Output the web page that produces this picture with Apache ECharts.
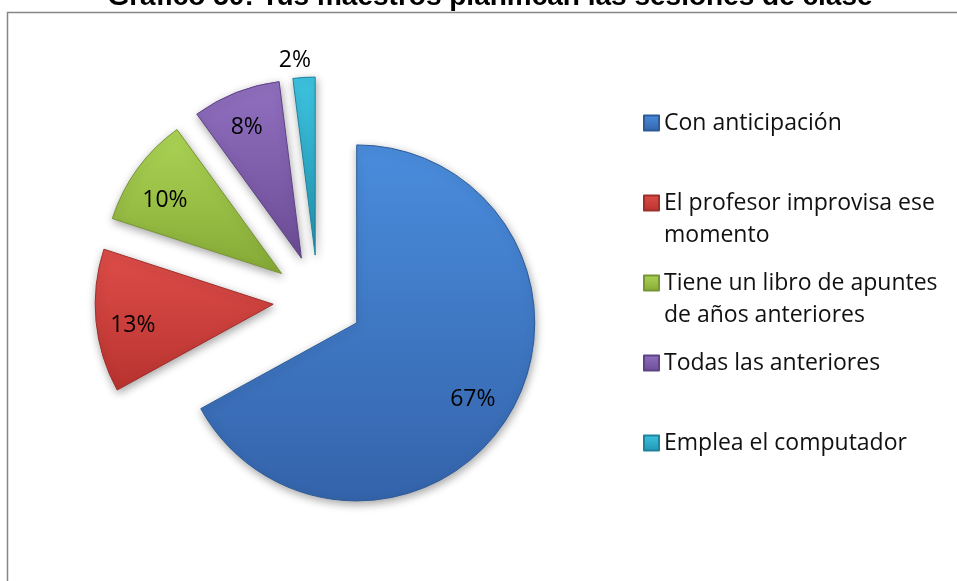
<!DOCTYPE html>
<html>
<head>
<meta charset="utf-8">
<title>Gráfico 50</title>
<script src="https://cdn.jsdelivr.net/npm/echarts@6/dist/echarts.min.js"></script>
<style>
  html, body { margin: 0; padding: 0; background: #ffffff; }
  #chart { width: 957px; height: 581px; }
</style>
</head>
<body>
<div id="chart"></div>
<script>
// Survey answers and their shares (%)
const categories = [
  'Con anticipación',
  'El profesor improvisa ese momento',
  'Tiene un libro de apuntes de años anteriores',
  'Todas las anteriores',
  'Emplea el computador'
];
const percentages = [67, 13, 10, 8, 2];
// Legend wording, broken into lines
const legendLines = [
  ['Con anticipación'],
  ['El profesor improvisa ese', 'momento'],
  ['Tiene un libro de apuntes', 'de años anteriores'],
  ['Todas las anteriores'],
  ['Emplea el computador']
];
const titleText = 'Gráfico 50: Tus maestros planifican las sesiones de clase';

// Slice palette: [light top, dark bottom, edge]
const palette = [
  ['#4a8ddd', '#3463aa', '#2c5b98'],
  ['#de4d49', '#b9332f', '#9e2f2b'],
  ['#acd455', '#86aa36', '#779534'],
  ['#9170c0', '#6c4c96', '#5e4386'],
  ['#3ec4e0', '#2195b2', '#1f839d']
];
// small nudges of the percentage labels inside their slices
const labelNudge = [[-7, 4], [2, 8], [-1, 11], [-2, 2], [0, 0]];

const grad = (c) => new echarts.graphic.LinearGradient(0, 0, 0, 1, [
  { offset: 0, color: c[0] }, { offset: 1, color: c[1] }
]);

const pieCenter = [318, 300];
const pieRadius = 178;
const explode = 45;
const textFont = '"Open Sans", "Noto Sans", sans-serif';
const lineH = 32;
const legendX = 643;
const legendFirstRow = 123;
const legendStep = 80;

const chart = echarts.init(document.getElementById('chart'), null, { renderer: 'canvas' });

// One legend block per answer; the marker sits level with the first text line.
// Multi-line entries get an empty leading line so the first line is centred on the marker.
const legends = categories.map((name, i) => {
  const lines = legendLines[i];
  const n = lines.length;
  const shown = n > 1 ? [''].concat(lines) : lines;
  const rowY = legendFirstRow + legendStep * i;
  return {
    show: true,
    data: [name],
    orient: 'vertical',
    left: legendX,
    top: rowY - shown.length * lineH / 2,
    padding: 0,
    itemWidth: 15,
    itemHeight: 15,
    selectedMode: false,
    icon: 'rect',
    formatter: () => shown.join('\n'),
    textStyle: {
      fontFamily: textFont,
      fontSize: 23,
      color: '#111111',
      lineHeight: lineH
    }
  };
});

const sliceData = categories.map((name, i) => ({
  name: name,
  value: percentages[i],
  selected: true,
  itemStyle: { color: grad(palette[i]), borderColor: palette[i][2], borderWidth: 1 },
  select: { itemStyle: { color: grad(palette[i]), borderColor: palette[i][2], borderWidth: 1 } },
  label: i === 4 ? {
    show: true,
    position: 'outside',
    distanceToLabelLine: -8
  } : { show: false }
}));

const labelData = categories.map((name, i) => ({
  name: name,
  value: percentages[i],
  selected: true,
  label: { show: i !== 4 }
}));

const option = {
  animation: false,
  backgroundColor: '#ffffff',
  title: {
    text: titleText,
    left: 490,
    textAlign: 'center',
    top: -17,
    padding: 0,
    textStyle: {
      fontFamily: '"Liberation Sans", Arial, sans-serif',
      fontWeight: 'bold',
      fontSize: 28,
      color: '#000000'
    }
  },
  legend: legends,
  graphic: [{
    type: 'rect',
    silent: true,
    shape: { x: 7.5, y: 12.5, width: 970, height: 600 },
    style: { fill: 'none', stroke: '#868686', lineWidth: 1.5 }
  }],
  series: [
    {
      type: 'pie',
      name: 'planificación',
      center: pieCenter,
      radius: pieRadius,
      startAngle: 90,
      clockwise: true,
      selectedMode: 'multiple',
      selectedOffset: explode,
      avoidLabelOverlap: false,
      silent: true,
      emphasis: { disabled: true },
      itemStyle: {
        shadowBlur: 8,
        shadowColor: 'rgba(0,0,0,0.35)',
        shadowOffsetX: 1,
        shadowOffsetY: 3
      },
      label: {
        formatter: '{c}%',
        fontFamily: textFont,
        fontSize: 23,
        color: '#000000'
      },
      labelLine: { show: false, length: 17, length2: 0 },
      data: sliceData
    },
    {
      // label carrier: same angles, wider radius so inside labels sit near the rim
      type: 'pie',
      name: 'etiquetas',
      center: pieCenter,
      radius: 280,
      startAngle: 90,
      clockwise: true,
      selectedMode: 'multiple',
      selectedOffset: explode,
      avoidLabelOverlap: false,
      silent: true,
      legendHoverLink: false,
      emphasis: { disabled: true },
      itemStyle: { color: 'rgba(0,0,0,0)', borderWidth: 0 },
      select: { itemStyle: { color: 'rgba(0,0,0,0)', borderWidth: 0 } },
      label: {
        position: 'inside',
        formatter: '{c}%',
        fontFamily: textFont,
        fontSize: 23,
        color: '#000000'
      },
      labelLayout: (p) => ({ dx: labelNudge[p.dataIndex][0], dy: labelNudge[p.dataIndex][1] }),
      labelLine: { show: false },
      data: labelData
    }
  ]
};

chart.setOption(option);
</script>
</body>
</html>
